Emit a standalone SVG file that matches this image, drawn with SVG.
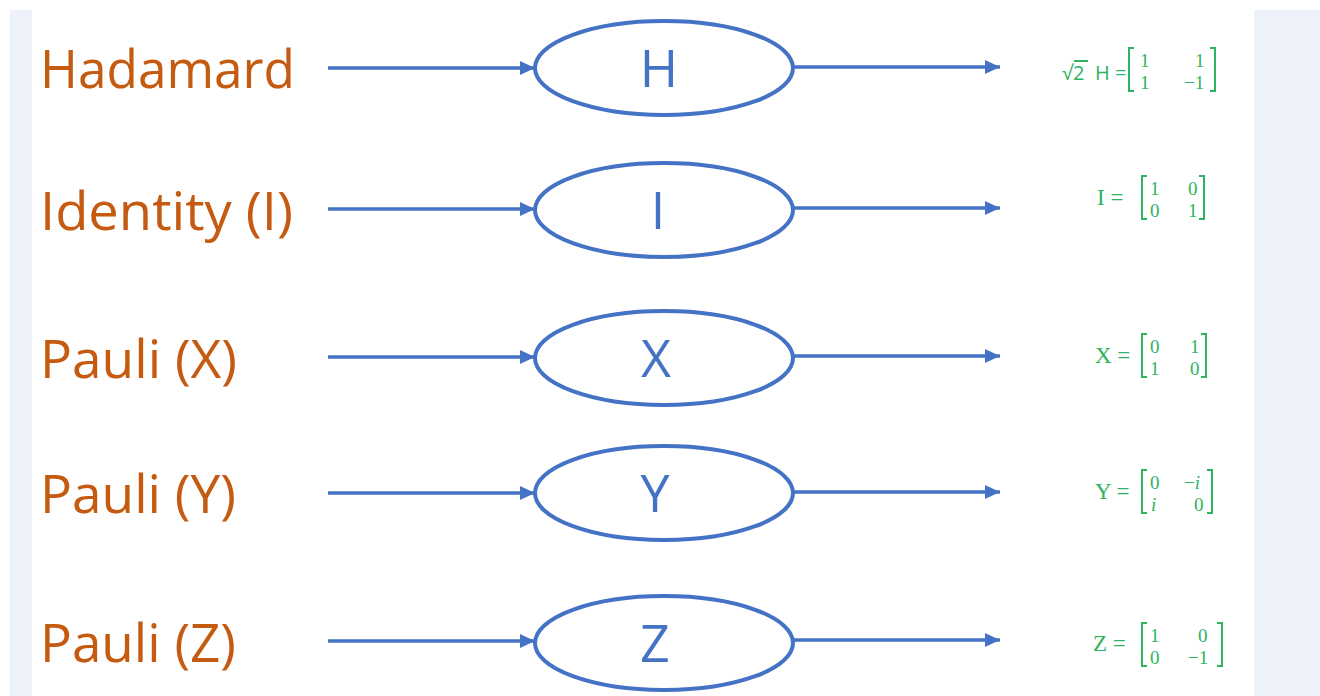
<svg xmlns="http://www.w3.org/2000/svg" width="1320" height="696" viewBox="0 0 1320 696">
<defs>
<style>
.lbl{font-family:"Open Sans","Liberation Sans",sans-serif;font-size:53px;fill:#C55A11}
.gate{font-family:"Open Sans","Liberation Sans",sans-serif;font-size:52px;fill:#4472C4;text-anchor:middle}
.ell{fill:#ffffff;stroke:#4472C4;stroke-width:4}
.wire{stroke:#4472C4;stroke-width:3.5;fill:none}
.m{font-family:"Liberation Serif","DejaVu Serif",serif;font-size:19px;fill:#2EB35E}
.eq{font-family:"Liberation Serif","DejaVu Serif",serif;font-size:23px;fill:#2EB35E}
.ms{font-family:"Open Sans","Liberation Sans",sans-serif;font-size:20px;fill:#2EB35E}
.br{stroke:#2EB35E;stroke-width:2;fill:none}
</style>
<marker id="ah" markerUnits="userSpaceOnUse" markerWidth="16" markerHeight="14" refX="15" refY="7" orient="auto">
<path d="M0,0 L15,7 L0,14 Z" fill="#4472C4"/>
</marker>
</defs>
<rect x="0" y="0" width="1320" height="696" fill="#ffffff"/>
<rect x="10" y="10" width="22" height="686" fill="#EDF1F9"/>
<rect x="1254" y="10" width="66" height="686" fill="#EDF1F9"/>

<g id="connectors">
<line class="wire" x1="328" y1="68" x2="535" y2="68" marker-end="url(#ah)"/>
<line class="wire" x1="793" y1="67" x2="1000" y2="67" marker-end="url(#ah)"/>
<line class="wire" x1="328" y1="209" x2="535" y2="209" marker-end="url(#ah)"/>
<line class="wire" x1="793" y1="208" x2="1000" y2="208" marker-end="url(#ah)"/>
<line class="wire" x1="328" y1="357" x2="535" y2="357" marker-end="url(#ah)"/>
<line class="wire" x1="793" y1="356" x2="1000" y2="356" marker-end="url(#ah)"/>
<line class="wire" x1="328" y1="493" x2="535" y2="493" marker-end="url(#ah)"/>
<line class="wire" x1="793" y1="492" x2="1000" y2="492" marker-end="url(#ah)"/>
<line class="wire" x1="328" y1="641" x2="535" y2="641" marker-end="url(#ah)"/>
<line class="wire" x1="793" y1="640" x2="1000" y2="640" marker-end="url(#ah)"/>
</g>

<g id="label-hadamard"><text class="lbl" x="40" y="88" textLength="255" lengthAdjust="spacingAndGlyphs">Hadamard</text></g>
<g id="label-identity"><text class="lbl" x="40" y="230" textLength="253" lengthAdjust="spacingAndGlyphs">Identity (I)</text></g>
<g id="label-paulix"><text class="lbl" x="40" y="378" textLength="197" lengthAdjust="spacingAndGlyphs">Pauli (X)</text></g>
<g id="label-pauliy"><text class="lbl" x="40" y="513" textLength="196" lengthAdjust="spacingAndGlyphs">Pauli (Y)</text></g>
<g id="label-pauliz"><text class="lbl" x="40" y="662" textLength="196" lengthAdjust="spacingAndGlyphs">Pauli (Z)</text></g>

<g id="gate-h"><ellipse class="ell" cx="664" cy="68" rx="129" ry="47"/><text class="gate" x="659" y="87">H</text></g>
<g id="gate-i"><ellipse class="ell" cx="664" cy="210" rx="129" ry="47"/><text class="gate" x="658" y="229">I</text></g>
<g id="gate-x"><ellipse class="ell" cx="664" cy="358" rx="129" ry="47"/><text class="gate" x="656" y="377">X</text></g>
<g id="gate-y"><ellipse class="ell" cx="664" cy="493" rx="129" ry="47"/><text class="gate" x="655" y="512">Y</text></g>
<g id="gate-z"><ellipse class="ell" cx="664" cy="643" rx="129" ry="47"/><text class="gate" x="655" y="662">Z</text></g>

<g id="matrix-h">
<text class="ms" x="1062" y="80">√2</text>
<line class="br" x1="1074" y1="61" x2="1088" y2="61" stroke-width="1.5"/>
<text class="ms" x="1095" y="80">H =</text>
<path class="br" d="M1134,48 L1129,48 L1129,91 L1134,91"/>
<text class="m" x="1140" y="67">1</text><text class="m" x="1195" y="67">1</text>
<text class="m" x="1140" y="89">1</text><text class="m" x="1184" y="89">−1</text>
<path class="br" d="M1210,48 L1215,48 L1215,91 L1210,91"/>
</g>
<g id="matrix-i">
<text class="eq" x="1097" y="205">I =</text>
<path class="br" d="M1147,176 L1142,176 L1142,219 L1147,219"/>
<text class="m" x="1150" y="195">1</text><text class="m" x="1188" y="195">0</text>
<text class="m" x="1150" y="217">0</text><text class="m" x="1188" y="217">1</text>
<path class="br" d="M1199,176 L1204,176 L1204,219 L1199,219"/>
</g>
<g id="matrix-x">
<text class="eq" x="1095" y="363">X =</text>
<path class="br" d="M1147,334 L1142,334 L1142,377 L1147,377"/>
<text class="m" x="1150" y="353">0</text><text class="m" x="1190" y="353">1</text>
<text class="m" x="1150" y="375">1</text><text class="m" x="1190" y="375">0</text>
<path class="br" d="M1201,334 L1206,334 L1206,377 L1201,377"/>
</g>
<g id="matrix-y">
<text class="eq" x="1095" y="499">Y =</text>
<path class="br" d="M1147,470 L1142,470 L1142,513 L1147,513"/>
<text class="m" x="1150" y="489">0</text><text class="m" x="1184" y="489">−<tspan font-style="italic">i</tspan></text>
<text class="m" x="1151" y="511" font-style="italic">i</text><text class="m" x="1194" y="511">0</text>
<path class="br" d="M1207,470 L1212,470 L1212,513 L1207,513"/>
</g>
<g id="matrix-z">
<text class="eq" x="1093" y="651">Z =</text>
<path class="br" d="M1147,623 L1142,623 L1142,666 L1147,666"/>
<text class="m" x="1150" y="642">1</text><text class="m" x="1198" y="642">0</text>
<text class="m" x="1150" y="664">0</text><text class="m" x="1188" y="664">−1</text>
<path class="br" d="M1217,623 L1222,623 L1222,666 L1217,666"/>
</g>
</svg>
